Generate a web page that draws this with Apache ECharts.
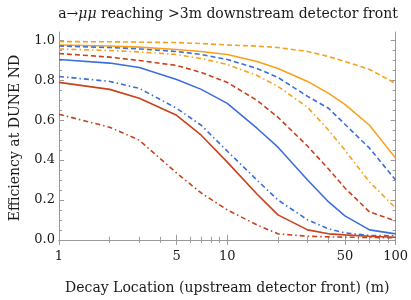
<!DOCTYPE html>
<html><head><meta charset="utf-8">
<script src="https://cdn.jsdelivr.net/npm/echarts@6/dist/echarts.min.js"></script>
<style>html,body{margin:0;padding:0;background:#fff}#c{width:411px;height:300px}</style>
</head><body><div id="c"></div>
<script>
// Decay location (m)
const decayLocation = [1, 2, 3, 5, 7, 10, 15, 20, 30, 40, 50, 70, 100];
// Efficiencies
const orangeSolid   = [0.978, 0.973, 0.967, 0.955, 0.945, 0.930, 0.895, 0.860, 0.795, 0.735, 0.680, 0.575, 0.410];
const orangeDashed  = [0.995, 0.994, 0.992, 0.990, 0.985, 0.978, 0.972, 0.965, 0.945, 0.920, 0.895, 0.855, 0.785];
const orangeDashDot = [0.958, 0.950, 0.943, 0.930, 0.910, 0.880, 0.825, 0.770, 0.665, 0.550, 0.450, 0.290, 0.160];
const blueSolid     = [0.905, 0.887, 0.865, 0.805, 0.755, 0.685, 0.560, 0.465, 0.300, 0.190, 0.120, 0.050, 0.030];
const blueDashed    = [0.973, 0.965, 0.958, 0.945, 0.930, 0.905, 0.860, 0.815, 0.720, 0.660, 0.580, 0.460, 0.300];
const blueDashDot   = [0.820, 0.795, 0.760, 0.660, 0.575, 0.445, 0.300, 0.200, 0.100, 0.055, 0.035, 0.022, 0.020];
const redSolid      = [0.790, 0.755, 0.710, 0.625, 0.525, 0.390, 0.230, 0.125, 0.050, 0.030, 0.025, 0.018, 0.013];
const redDashed     = [0.935, 0.917, 0.900, 0.875, 0.840, 0.790, 0.700, 0.615, 0.470, 0.355, 0.260, 0.140, 0.095];
const redDashDot    = [0.630, 0.565, 0.500, 0.335, 0.235, 0.150, 0.075, 0.030, 0.018, 0.015, 0.013, 0.012, 0.010];
// Tick labels
const xTickLabels = [1, 5, 10, 50, 100];
const xMinorTicks = [1,2,3,4,5,6,7,8,9,10,20,30,40,50,60,70,80,90,100];
const yTickLabels = [0, 0.2, 0.4, 0.6, 0.8, 1.0];
const yMinorTicks = [];
for (let k = 0; k <= 20; k++) yMinorTicks.push(+(k * 0.05).toFixed(2));

const ORANGE = '#F9A11B', BLUE = '#3D6FDA', RED = '#C8421A';
const DASH = [5, 3], DASHDOT = [5, 3, 1.5, 3];
const FONT = 'DejaVu Serif';
const FRAME = '#9a9a9a';
const TXT = '#1a1a1a';
const YMIN = -0.021, YMAX = 1.043;

const curves = [
  [orangeDashed, ORANGE, DASH], [orangeSolid, ORANGE, 'solid'], [orangeDashDot, ORANGE, DASHDOT],
  [blueDashed, BLUE, DASH], [blueSolid, BLUE, 'solid'], [blueDashDot, BLUE, DASHDOT],
  [redDashed, RED, DASH], [redSolid, RED, 'solid'], [redDashDot, RED, DASHDOT]
];

function xAx(pos, ticks, len, labels, extra) {
  return Object.assign({
    type: 'log', logBase: 10, min: 1, max: 100, position: pos,
    axisLine: { show: true, lineStyle: { color: FRAME, width: 1 } },
    axisTick: { show: true, inside: true, length: len, customValues: ticks, lineStyle: { color: FRAME } },
    axisLabel: labels ? { show: true, customValues: xTickLabels, fontFamily: FONT, fontSize: 13, color: TXT, margin: 6 } : { show: false },
    splitLine: { show: false }, minorTick: { show: false }
  }, extra || {});
}
function yAx(pos, ticks, len, labels, extra) {
  return Object.assign({
    type: 'value', min: YMIN, max: YMAX, position: pos,
    axisLine: { show: true, lineStyle: { color: FRAME, width: 1 } },
    axisTick: { show: true, inside: true, length: len, customValues: ticks, lineStyle: { color: FRAME } },
    axisLabel: labels ? { show: true, customValues: yTickLabels, formatter: v => v.toFixed(1), fontFamily: FONT, fontSize: 13, color: TXT, margin: 4 } : { show: false },
    splitLine: { show: false }
  }, extra || {});
}

const chart = echarts.init(document.getElementById('c'), null, { renderer: 'canvas' });
chart.setOption({
  animation: false,
  backgroundColor: '#fff',
  title: {
    text: '{n|a→}{i|μμ}{n| reaching >3m downstream detector front}',
    left: 223, textAlign: 'center', top: 2,
    textStyle: { fontWeight: 'normal', rich: {
      n: { fontFamily: FONT, fontSize: 14, fontWeight: 'normal', color: TXT },
      i: { fontFamily: FONT, fontSize: 14, fontWeight: 'normal', fontStyle: 'italic', color: TXT }
    } }
  },
  grid: { left: 53, right: 13, top: 32, bottom: 55, containLabel: false },
  xAxis: [
    xAx('bottom', xMinorTicks, 3, true, { name: 'Decay Location (upstream detector front) (m)', nameLocation: 'middle', nameGap: 37, nameTextStyle: { fontFamily: FONT, fontSize: 14, color: TXT } }),
    xAx('top', xMinorTicks, 3, false),
    xAx('bottom', xTickLabels, 5, false, { axisLine: { show: false } }),
    xAx('top', xTickLabels, 5, false, { axisLine: { show: false } })
  ],
  yAxis: [
    yAx('left', yMinorTicks, 3, true, { name: 'Efficiency at DUNE ND', nameLocation: 'middle', nameGap: 37, nameTextStyle: { fontFamily: FONT, fontSize: 14, color: TXT } }),
    yAx('right', yMinorTicks, 3, false),
    yAx('left', yTickLabels, 5, false, { axisLine: { show: false } }),
    yAx('right', yTickLabels, 5, false, { axisLine: { show: false } })
  ],
  series: curves.map(c => ({
    type: 'line', xAxisIndex: 0, yAxisIndex: 0, symbol: 'none', smooth: false,
    data: decayLocation.map((x, i) => [x, c[0][i]]),
    lineStyle: { color: c[1], width: 1.6, type: c[2] }
  }))
});
</script></body></html>
